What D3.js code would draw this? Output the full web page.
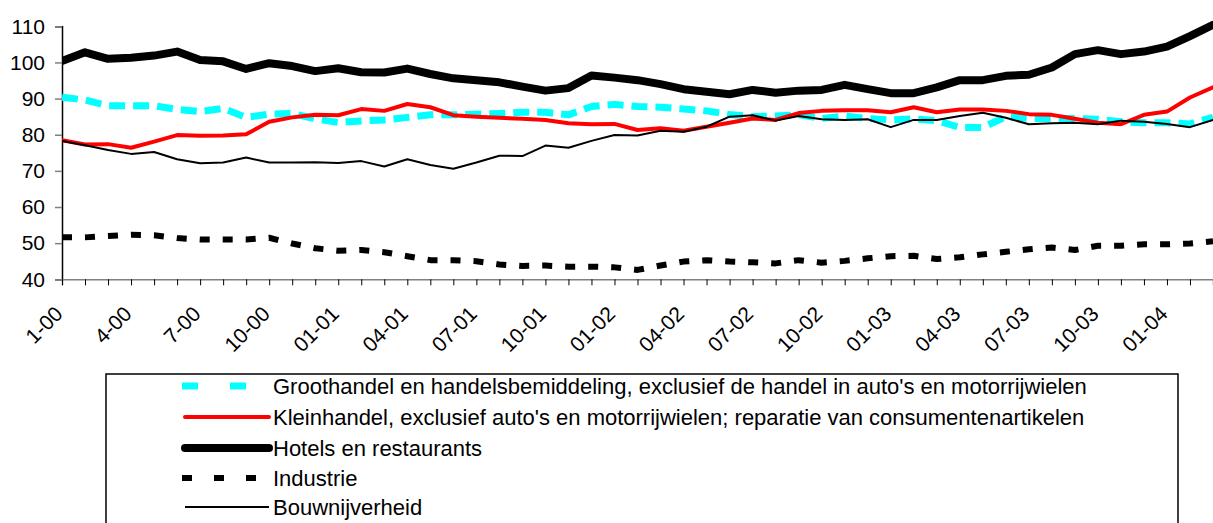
<!DOCTYPE html>
<html>
<head>
<meta charset="UTF-8">
<title>Index per bedrijfstak</title>
<script src="https://cdn.jsdelivr.net/npm/d3@7"></script>
<style>
  body { margin: 0; background: #fff; }
  svg { display: block; font-family: "Liberation Sans", Arial, sans-serif; }
  .ylab { font-size: 21px; fill: #000; }
  .xlab { font-size: 21px; fill: #000; }
  .leg { font-size: 22px; fill: #000; }
</style>
</head>
<body>
<div id="chart"></div>
<script>
// 51 maanden, jan 2000 t/m mrt 2004; label om de 3 maanden
const tickLabels = ["1-00", "4-00", "7-00", "10-00", "01-01", "04-01", "07-01", "10-01",
  "01-02", "04-02", "07-02", "10-02", "01-03", "04-03", "07-03", "10-03", "01-04"];
const yTicks = [40, 50, 60, 70, 80, 90, 100, 110];

const seriesNames = [
  "Groothandel en handelsbemiddeling, exclusief de handel in auto's en motorrijwielen",
  "Kleinhandel, exclusief auto's en motorrijwielen; reparatie van consumentenartikelen",
  "Hotels en restaurants",
  "Industrie",
  "Bouwnijverheid"
];

const groothandel = [90.4, 89.6, 88, 88, 88, 87, 86.4, 87.3, 84.8, 85.7,
  85.9, 84.4, 83.4, 83.8, 84.1, 84.8, 85.5, 85.5, 85.7, 85.9,
  86.2, 86.2, 85.5, 87.8, 88.4, 87.8, 87.6, 87.1, 86.6, 85.6,
  85, 85.2, 85.5, 84.5, 85.2, 84.5, 84.1, 84.4, 83.9, 82,
  82, 85, 84.5, 84.5, 84.5, 84.3, 83.6, 83.3, 83.3, 83, 84.8];

const kleinhandel = [78.5, 77.3, 77.4, 76.4, 78.1, 79.9, 79.7, 79.8, 80.1, 83.6,
  84.8, 85.5, 85.4, 87.1, 86.6, 88.5, 87.6, 85.4, 85, 84.7,
  84.4, 84.1, 83.2, 82.9, 83, 81.3, 81.8, 81.1, 82.2, 83.3,
  84.5, 84.1, 86, 86.6, 86.8, 86.8, 86.2, 87.6, 86.2, 87,
  87, 86.6, 85.7, 85.5, 84.4, 83.3, 82.9, 85.5, 86.4, 90.3, 93.1];

const hotels = [100.4, 102.8, 101, 101.3, 101.9, 103, 100.7, 100.3, 98.2, 99.8,
  99, 97.6, 98.4, 97.3, 97.2, 98.3, 96.8, 95.6, 95.1, 94.5,
  93.3, 92.2, 92.9, 96.4, 95.8, 95.1, 94, 92.6, 91.9, 91.2,
  92.4, 91.6, 92.2, 92.4, 93.8, 92.6, 91.5, 91.5, 93.1, 95.1,
  95.1, 96.3, 96.6, 98.6, 102.3, 103.4, 102.3, 103, 104.4, 107.3, 110.4];

const industrie = [51.6, 51.6, 52, 52.3, 52.2, 51.4, 51, 51, 51, 51.5,
  49.9, 48.6, 47.9, 48.1, 47.5, 46.4, 45.3, 45.3, 45, 44.1,
  43.7, 43.8, 43.5, 43.5, 43.3, 42.6, 43.8, 44.9, 45.3, 44.9,
  44.7, 44.4, 45.3, 44.6, 45.1, 45.8, 46.4, 46.5, 45.6, 46.1,
  46.9, 47.6, 48.3, 48.8, 48.1, 49.3, 49.3, 49.7, 49.7, 49.9, 50.5];

const bouw = [78.3, 77.1, 75.8, 74.7, 75.2, 73.2, 72.1, 72.3, 73.7, 72.3,
  72.3, 72.4, 72.2, 72.7, 71.2, 73.2, 71.6, 70.6, 72.3, 74.2,
  74.1, 77, 76.4, 78.3, 79.9, 79.8, 81.1, 80.8, 82.2, 85,
  85.4, 83.9, 85.2, 84.3, 84.1, 84.3, 82.1, 84.1, 84.1, 85.2,
  86.1, 84.7, 82.9, 83.2, 83.3, 82.9, 83.9, 83.6, 83, 82.1, 84.1];

const width = 1213, height = 523;
const x0 = 62, x1 = 1213, yTop = 26.3, yBot = 279.3;

const svg = d3.select("#chart").append("svg")
    .attr("width", width)
    .attr("height", height);

const x = d3.scaleLinear().domain([0, groothandel.length - 1]).range([x0, x1]);
const y = d3.scaleLinear().domain([40, 110]).range([yBot, yTop]);

// assen
const yAxis = svg.append("g")
    .attr("transform", "translate(" + x0 + ",0)")
    .call(d3.axisLeft(y).tickValues(yTicks).tickSize(7).tickPadding(10));
yAxis.select(".domain").attr("stroke", "#000").attr("stroke-width", 1.5);
yAxis.selectAll(".tick line").attr("stroke", "#808080").attr("stroke-width", 1.5);
yAxis.selectAll(".tick text").attr("class", "ylab").attr("font-size", null).attr("font-family", null);

const xAxis = svg.append("g")
    .attr("transform", "translate(0," + yBot + ")")
    .call(d3.axisBottom(x).tickValues(d3.range(0, groothandel.length)).tickSize(6).tickFormat(""));
xAxis.select(".domain").attr("stroke", "#808080").attr("stroke-width", 1.5);
xAxis.selectAll(".tick line").attr("stroke", "#000").attr("stroke-width", 1);

svg.append("g").selectAll("text")
    .data(tickLabels)
    .join("text")
    .attr("class", "xlab")
    .attr("text-anchor", "end")
    .attr("transform", (d, i) => "translate(" + (x(i * 3) + 2) + "," + (yBot + 36) + ") rotate(-45)")
    .text(d => d);

const styles = [
  {data: groothandel, color: "#00ffff", w: 7, dash: "16,8", cap: "butt", legDash: "16,32"},
  {data: kleinhandel, color: "#ff0000", w: 4, dash: null, cap: "round"},
  {data: hotels, color: "#000", w: 8, dash: null, cap: "round"},
  {data: industrie, color: "#000", w: 6, dash: "10,13", cap: "butt", legDash: "10,22"},
  {data: bouw, color: "#000", w: 2, dash: null, cap: "butt"}
];

const line = d3.line().x((d, i) => x(i)).y(d => y(d));

svg.append("defs").append("clipPath").attr("id", "plot")
    .append("rect").attr("x", x0).attr("y", 0).attr("width", x1 - x0 + 2).attr("height", yBot + 6);

const lines = svg.append("g").attr("clip-path", "url(#plot)");
styles.forEach(s => {
  lines.append("path")
      .attr("d", line(s.data))
      .attr("fill", "none")
      .attr("stroke", s.color)
      .attr("stroke-width", s.w)
      .attr("stroke-linejoin", "round")
      .attr("stroke-linecap", s.cap)
      .attr("stroke-dasharray", s.dash);
});

// legenda
const leg = svg.append("g");
leg.append("rect")
    .attr("x", 106).attr("y", 374)
    .attr("width", 1072).attr("height", 200)
    .attr("fill", "#fff").attr("stroke", "#000").attr("stroke-width", 1.5);

const rowY = [386, 417, 448, 478, 507];
styles.forEach((s, i) => {
  const g = leg.append("g").attr("transform", "translate(0," + rowY[i] + ")");
  g.append("line")
      .attr("x1", s.legDash ? 182 : 185).attr("x2", 269)
      .attr("stroke", s.color)
      .attr("stroke-width", s.w)
      .attr("stroke-linecap", s.cap)
      .attr("stroke-dasharray", s.legDash || null);
  g.append("text")
      .attr("class", "leg")
      .attr("x", 273).attr("y", 8)
      .text(seriesNames[i]);
});
</script>
</body>
</html>
